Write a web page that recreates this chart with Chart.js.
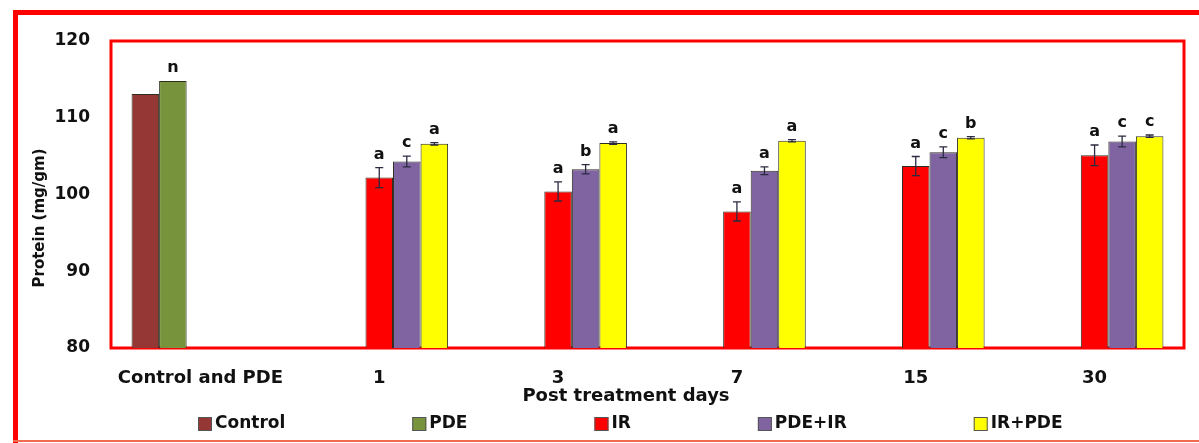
<!DOCTYPE html>
<html>
<head>
<meta charset="utf-8">
<script src="https://cdn.jsdelivr.net/npm/chart.js@4/dist/chart.umd.min.js"></script>
<style>
  html, body { margin: 0; padding: 0; background: #fff; }
  #wrap { position: relative; width: 1199px; height: 443px; }
</style>
</head>
<body>
<div id="wrap"><canvas id="proteinChart" width="1199" height="443"></canvas></div>
<script>
"use strict";

var categories = ["Control and PDE", "1", "3", "7", "15", "30"];
var seriesNames = ["Control", "PDE", "IR", "PDE+IR", "IR+PDE"];
var seriesColors = ["#953735", "#77933C", "#FF0000", "#8064A2", "#FFFF00"];

var control   = [113.1, null, null, null, null, null];
var pde       = [114.8, null, null, null, null, null];
var ir        = [null, 102.2, 100.4, 97.8, 103.7, 105.1];
var pdeIr     = [null, 104.3, 103.3, 103.1, 105.5, 106.9];
var irPde     = [null, 106.6, 106.7, 107.0, 107.4, 107.6];

var controlErr = [0, 0, 0, 0, 0, 0];
var pdeErr     = [0, 0, 0, 0, 0, 0];
var irErr      = [0, 1.3, 1.25, 1.25, 1.25, 1.35];
var pdeIrErr   = [0, 0.7, 0.6, 0.5, 0.7, 0.7];
var irPdeErr   = [0, 0.15, 0.15, 0.15, 0.15, 0.15];

var controlLetters = ["", "", "", "", "", ""];
var pdeLetters     = ["n", "", "", "", "", ""];
var irLetters      = ["", "a", "a", "a", "a", "a"];
var pdeIrLetters   = ["", "c", "b", "a", "c", "c"];
var irPdeLetters   = ["", "a", "a", "a", "b", "c"];

var yTicks = [80, 90, 100, 110, 120];

var values = [control, pde, ir, pdeIr, irPde];
var errors = [controlErr, pdeErr, irErr, pdeIrErr, irPdeErr];
var letters = [controlLetters, pdeLetters, irLetters, pdeIrLetters, irPdeLetters];

var boldFont = "'DejaVu Sans', sans-serif";

var datasets = seriesNames.map(function (name, i) {
    return {
        label: name,
        data: values[i],
        backgroundColor: seriesColors[i],
        borderColor: "#2e2e20",
        borderWidth: 1,
        barPercentage: 1.0,
        categoryPercentage: 0.77,
        skipNull: false
    };
});

// frame, plot border, error bars, letters, axis titles and legend
var decorations = {
    id: "decorations",
    beforeDraw: function (chart) {
        var ctx = chart.ctx;
        ctx.save();
        ctx.strokeStyle = "#FF0000";
        ctx.lineWidth = 5;
        ctx.beginPath();
        ctx.moveTo(15.5, 443);
        ctx.lineTo(15.5, 12.5);
        ctx.lineTo(1199, 12.5);
        ctx.stroke();
        ctx.strokeStyle = "#F26B50";
        ctx.lineWidth = 2;
        ctx.beginPath();
        ctx.moveTo(13, 441);
        ctx.lineTo(1199, 441);
        ctx.stroke();
        ctx.restore();
    },
    beforeDatasetsDraw: function (chart) {
        var a = chart.chartArea;
        var ctx = chart.ctx;
        ctx.save();
        ctx.strokeStyle = "#FF0000";
        ctx.lineWidth = 3;
        ctx.strokeRect(a.left, a.top, a.right - a.left, a.bottom - a.top);
        ctx.restore();
    },
    afterDatasetsDraw: function (chart) {
        var ctx = chart.ctx;
        var y = chart.scales.y;
        ctx.save();
        for (var i = 0; i < values.length; i++) {
            var meta = chart.getDatasetMeta(i);
            meta.data.forEach(function (bar, j) {
                var v = values[i][j];
                if (v === null) return;
                var e = errors[i][j];
                var top = y.getPixelForValue(v + e);
                if (e > 0) {
                    var bot = y.getPixelForValue(v - e);
                    ctx.strokeStyle = "#2a2a40";
                    ctx.lineWidth = 1.3;
                    ctx.beginPath();
                    ctx.moveTo(bar.x, top);
                    ctx.lineTo(bar.x, bot);
                    ctx.moveTo(bar.x - 4, top);
                    ctx.lineTo(bar.x + 4, top);
                    ctx.moveTo(bar.x - 4, bot);
                    ctx.lineTo(bar.x + 4, bot);
                    ctx.stroke();
                }
                var t = letters[i][j];
                if (t) {
                    ctx.fillStyle = "#111";
                    ctx.font = "bold 16px " + boldFont;
                    ctx.textAlign = "center";
                    ctx.textBaseline = "bottom";
                    ctx.fillText(t, bar.x, top - 5);
                }
            });
        }
        ctx.restore();
    },
    afterDraw: function (chart) {
        var ctx = chart.ctx;
        ctx.save();
        ctx.fillStyle = "#111";
        ctx.textAlign = "center";
        ctx.textBaseline = "middle";
        // x axis title
        ctx.font = "bold 18px " + boldFont;
        ctx.fillText("Post treatment days", 626, 396);
        // y axis title
        ctx.translate(40, 218);
        ctx.rotate(-Math.PI / 2);
        ctx.font = "bold 15px " + boldFont;
        ctx.fillText("Protein (mg/gm)", 0, 0);
        ctx.restore();

        // legend
        ctx.save();
        ctx.font = "bold 17px " + boldFont;
        ctx.textBaseline = "middle";
        var gap = 127, box = 14, x = 198, yMid = 424;
        seriesNames.forEach(function (name, i) {
            ctx.fillStyle = seriesColors[i];
            ctx.fillRect(x, yMid - box / 2, box, box);
            ctx.strokeStyle = "#555";
            ctx.lineWidth = 1;
            ctx.strokeRect(x + 0.5, yMid - box / 2 + 0.5, box - 1, box - 1);
            ctx.fillStyle = "#111";
            ctx.textAlign = "left";
            ctx.fillText(name, x + box + 3, yMid);
            x += box + 3 + ctx.measureText(name).width + gap;
        });
        ctx.restore();
    }
};

var ctx_bar = document.getElementById("proteinChart").getContext("2d");

var proteinChart = new Chart(ctx_bar, {
    type: "bar",
    data: { labels: categories, datasets: datasets },
    options: {
        responsive: false,
        animation: false,
        layout: { padding: { left: 0, right: 15, top: 41, bottom: 35 } },
        plugins: {
            legend: { display: false },
            tooltip: { enabled: false }
        },
        scales: {
            x: {
                grid: { display: false, drawTicks: false },
                border: { display: false },
                ticks: {
                    color: "#111",
                    padding: 20,
                    font: { family: boldFont, size: 18, weight: "bold" }
                },
                afterFit: function (scale) { scale.height = 60; }
            },
            y: {
                min: 80,
                max: 120,
                afterBuildTicks: function (scale) {
                    scale.ticks = yTicks.map(function (v) { return { value: v }; });
                },
                grid: { display: false, drawTicks: false },
                border: { display: false },
                ticks: {
                    color: "#111",
                    padding: 21,
                    font: { family: boldFont, size: 17, weight: "bold" }
                },
                afterFit: function (scale) { scale.width = 111; }
            }
        }
    },
    plugins: [decorations]
});
</script>
</body>
</html>
